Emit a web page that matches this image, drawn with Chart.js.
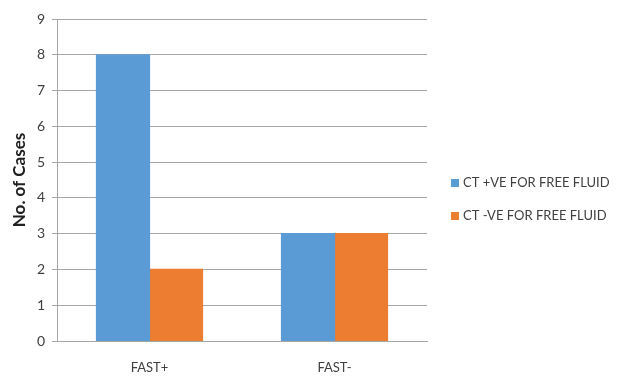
<!DOCTYPE html>
<html><head><meta charset="utf-8">
<script src="https://cdn.jsdelivr.net/npm/chart.js@4"></script>
<style>html,body{margin:0;padding:0;background:#fff}#wrap{width:617px;height:378px;position:relative}</style>
</head><body><div id="wrap"><canvas id="c" width="617" height="378"></canvas></div>
<script>
const categories = ["FAST+", "FAST-"];
const ctPositive = [8, 3];
const ctNegative = [2, 3];
const seriesLabels = ["CT +VE FOR FREE FLUID", "CT -VE FOR FREE FLUID"];
const yTitle = "No. of Cases";

const FONT = "Lato, 'Liberation Sans', sans-serif";

const customLegend = {
  id: 'customLegend',
  afterDraw(chart) {
    const ctx = chart.ctx;
    ctx.save();
    ctx.font = "13px " + FONT;
    ctx.textBaseline = 'middle';
    const ys = [183, 216];
    chart.data.datasets.forEach((ds, i) => {
      ctx.fillStyle = ds.backgroundColor;
      ctx.fillRect(451, ys[i] - 4, 8, 8);
      ctx.fillStyle = '#404040';
      ctx.fillText(ds.label, 463, ys[i]);
    });
    ctx.restore();
  }
};

new Chart(document.getElementById('c'), {
  type: 'bar',
  data: {
    labels: categories,
    datasets: [
      { label: seriesLabels[0], data: ctPositive, backgroundColor: '#5b9bd5' },
      { label: seriesLabels[1], data: ctNegative, backgroundColor: '#ed7d31' }
    ]
  },
  options: {
    responsive: false,
    animation: false,
    layout: { padding: { top: 19, right: 190, left: 0, bottom: 0 } },
    datasets: { bar: { categoryPercentage: 0.573, barPercentage: 1.0, borderWidth: 0, inflateAmount: 0.6 } },
    plugins: { legend: { display: false }, tooltip: { enabled: false } },
    scales: {
      x: {
        grid: { display: false, drawTicks: false },
        border: { color: '#a6a6a6' },
        ticks: { color: '#404040', font: { family: FONT, size: 13 }, padding: 19 },
        afterFit(s) { s.height = 37; }
      },
      y: {
        min: 0, max: 9,
        ticks: { stepSize: 1, color: '#404040', font: { family: FONT, size: 14 }, padding: 7 },
        grid: { color: '#a6a6a6', tickLength: 5 },
        border: { color: '#a6a6a6' },
        title: { display: true, text: yTitle, color: '#202020', padding: { top: 9, bottom: 0 }, font: { family: FONT, size: 17, weight: 'bold' } },
        afterFit(s) { s.width = 57; }
      }
    }
  },
  plugins: [customLegend]
});
</script></body></html>
